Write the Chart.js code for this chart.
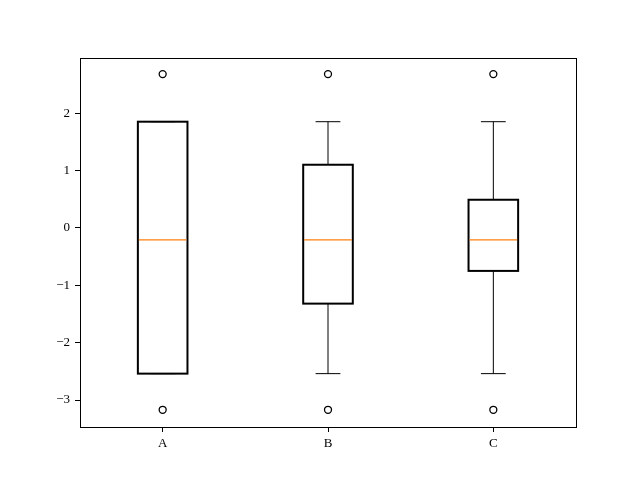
<!DOCTYPE html>
<html>
<head>
<meta charset="utf-8">
<script src="https://cdn.jsdelivr.net/npm/chart.js@4"></script>
<style>
  html, body { margin: 0; padding: 0; background: #fff; }
  #wrap { width: 640px; height: 480px; }
</style>
</head>
<body>
<div id="wrap"><canvas id="chart" width="640" height="480"></canvas></div>
<script>
// box plot data
const labels = ['A', 'B', 'C'];
const q1 = [-2.54, -1.32, -0.75];
const q3 = [1.85, 1.10, 0.49];
const medians = [-0.21, -0.21, -0.21];
const whiskerLow = [-2.54, -2.54, -2.54];
const whiskerHigh = [1.85, 1.85, 1.85];
const outliersHigh = [2.68, 2.68, 2.68];
const outliersLow = [-3.17, -3.17, -3.17];
const yTicks = [-3, -2, -1, 0, 1, 2];

const FONT = '"Liberation Serif", "DejaVu Serif", serif';

const boxExtras = {
  id: 'boxExtras',
  afterDatasetsDraw(chart){
    const ctx = chart.ctx;
    const x = chart.scales.x, y = chart.scales.y;
    const meta = chart.getDatasetMeta(0);
    ctx.save();
    labels.forEach((_, i) => {
      const bar = meta.data[i];
      const cx = x.getPixelForValue(i);
      const half = bar.width / 2;
      const capHalf = half / 2;
      // whiskers and caps
      ctx.strokeStyle = '#000';
      ctx.lineWidth = 1;
      ctx.beginPath();
      ctx.moveTo(cx, y.getPixelForValue(q3[i]));
      ctx.lineTo(cx, y.getPixelForValue(whiskerHigh[i]));
      ctx.moveTo(cx, y.getPixelForValue(q1[i]));
      ctx.lineTo(cx, y.getPixelForValue(whiskerLow[i]));
      const yh = y.getPixelForValue(whiskerHigh[i]);
      const yl = y.getPixelForValue(whiskerLow[i]);
      ctx.moveTo(cx - capHalf, yh); ctx.lineTo(cx + capHalf, yh);
      ctx.moveTo(cx - capHalf, yl); ctx.lineTo(cx + capHalf, yl);
      ctx.stroke();
      // box outline centred on the quartile edges
      ctx.lineWidth = 2;
      ctx.strokeRect(cx - half, bar.y, half * 2, bar.base - bar.y);
      // median
      ctx.strokeStyle = '#ff7f0e';
      ctx.lineWidth = 1.2;
      const ym = y.getPixelForValue(medians[i]);
      ctx.beginPath();
      ctx.moveTo(cx - half + 1, ym); ctx.lineTo(cx + half - 1, ym);
      ctx.stroke();
    });
    // frame
    const a = chart.chartArea;
    ctx.strokeStyle = '#000';
    ctx.lineWidth = 1;
    ctx.strokeRect(Math.round(a.left) + 0.5, Math.round(a.top) + 0.5,
                   Math.round(a.right - a.left), Math.round(a.bottom - a.top));
    ctx.restore();
  }
};

new Chart(document.getElementById('chart'), {
  type: 'bar',
  data: {
    labels,
    datasets: [
      {
        data: q1.map((v, i) => [v, q3[i]]),
        backgroundColor: 'rgba(0,0,0,0)',
        borderWidth: 0,
        barPercentage: 0.3,
        categoryPercentage: 1
      },
      {
        type: 'line',
        data: outliersHigh,
        showLine: false,
        pointRadius: 3.5,
        pointBorderWidth: 1.3,
        pointBackgroundColor: '#fff',
        pointBorderColor: '#000'
      },
      {
        type: 'line',
        data: outliersLow,
        showLine: false,
        pointRadius: 3.5,
        pointBorderWidth: 1.3,
        pointBackgroundColor: '#fff',
        pointBorderColor: '#000'
      }
    ]
  },
  options: {
    responsive: false,
    animation: false,
    layout: { padding: { top: 58, right: 64, bottom: 0, left: 0 } },
    plugins: { legend: { display: false }, tooltip: { enabled: false } },
    scales: {
      x: {
        offset: true,
        grid: { offset: false, drawOnChartArea: false, color: '#000', tickLength: 5 },
        border: { display: false },
        ticks: { color: '#000', font: { family: FONT, size: 13 }, padding: 4, maxRotation: 0 },
        afterFit(s){ s.height = 53; }
      },
      y: {
        min: -3.47,
        max: 2.96,
        grid: { drawOnChartArea: false, color: '#000', tickLength: 5 },
        border: { display: false },
        ticks: {
          color: '#000', font: { family: FONT, size: 13 }, padding: 5,
          callback: v => (v < 0 ? '\u2212' + Math.abs(v) : String(v))
        },
        afterBuildTicks(s){ s.ticks = yTicks.map(v => ({ value: v })); },
        afterFit(s){ s.width = 80; }
      }
    }
  },
  plugins: [boxExtras]
});
</script>
</body>
</html>
